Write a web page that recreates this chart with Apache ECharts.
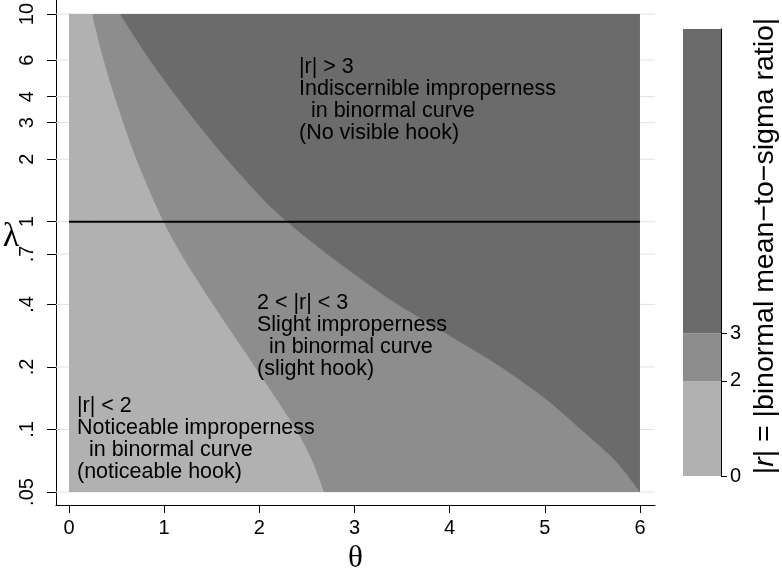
<!DOCTYPE html>
<html><head><meta charset="utf-8">
<script src="https://cdn.jsdelivr.net/npm/echarts@6/dist/echarts.min.js"></script>
<style>html,body{margin:0;padding:0;background:#fff}#c{width:782px;height:568px}</style>
</head><body><div id="c"></div><script>
// ---- data ----
const thetaTicks = [0, 1, 2, 3, 4, 5, 6];
const lambdaTicks = [0.05, 0.1, 0.2, 0.4, 0.7, 1, 2, 3, 4, 6, 10];
const lambdaTickLabels = ['.05', '.1', '.2', '.4', '.7', '1', '2', '3', '4', '6', '10'];
const thetaRange = [0, 6];
const lambdaRange = [0.05, 10];
// boundary |r| = 2 (theta, lambda)
const boundaryR2 = [[0.242, 10], [0.352, 6.28], [0.491, 3.85], [0.672, 2.21], [0.851, 1.39], [0.993, 1], [1.177, 0.7], [1.482, 0.42], [1.954, 0.2], [2.385, 0.1], [2.56, 0.07], [2.679, 0.05]];
// boundary |r| = 3 (theta, lambda)
const boundaryR3 = [[0.536, 10], [0.82, 6.28], [1.156, 3.85], [1.576, 2.21], [2.049, 1.27], [2.291, 1], [2.711, 0.7], [3.383, 0.42], [4.003, 0.282], [4.539, 0.2], [5.023, 0.1385], [5.385, 0.0993], [5.743, 0.0705], [6, 0.05]];
const referenceLambda = 1;
const colorbarLevels = [0, 2, 3];
const colorbarMax = 9.4;
const colorbarBands = [[0, 2], [2, 3], [3, 9.4]];
const regionTexts = [
  '|r| > 3\nIndiscernible improperness\n  in binormal curve\n(No visible hook)',
  '2 < |r| < 3\nSlight improperness\n  in binormal curve\n(slight hook)',
  '|r| < 2\nNoticeable improperness\n  in binormal curve\n(noticeable hook)'
];

// ---- styles ----
const C_LIGHT = '#b1b1b1', C_MED = '#8d8d8d', C_DARK = '#6b6b6b';
const bandColors = [C_LIGHT, C_MED, C_DARK];
const FONT = 'Liberation Sans, Arial, sans-serif';

const chart = echarts.init(document.getElementById('c'), null, {renderer: 'canvas'});

function lamLabel(v) {
  for (let i = 0; i < lambdaTicks.length; i++) {
    if (Math.abs(Math.log10(v) - Math.log10(lambdaTicks[i])) < 1e-6) return lambdaTickLabels[i];
  }
  return '';
}

// rectangles: [theta0, lambda0, theta1, lambda1, colorIndex]
const rects = [
  [thetaRange[0], lambdaRange[0], thetaRange[1], lambdaRange[1], 2],
  [thetaRange[0], lambdaRange[0], boundaryR3[0][0], lambdaRange[1], 1]
];
const rectsLight = [
  [thetaRange[0], lambdaRange[0], boundaryR2[0][0], lambdaRange[1], 0]
];

function rectItem(params, api) {
  const p0 = api.coord([api.value(0), api.value(1)]);
  const p1 = api.coord([api.value(2), api.value(3)]);
  const ci = api.value(4);
  // partial rects overlap the adjoining curved area by a fraction of a pixel to avoid an anti-aliasing seam
  const extra = ci === 2 ? 0 : 0.8;
  return {type: 'rect', shape: {x: p0[0], y: p1[1], width: p1[0] - p0[0] + extra, height: p0[1] - p1[1]},
    style: {fill: bandColors[ci]}};
}

const option = {
  backgroundColor: '#fff',
  animation: false,
  grid: [
    {left: 56, right: 127, top: 0, bottom: 63, containLabel: false, outerBoundsMode: 'none'},
    {left: 683, right: 61, top: 29, bottom: 92, containLabel: false, outerBoundsMode: 'none'}
  ],
  xAxis: [{
    type: 'value', gridIndex: 0, min: -0.1366, max: 6.158,
    axisLine: {show: true, onZero: false, lineStyle: {color: '#000', width: 1}},
    axisTick: {show: true, customValues: thetaTicks, length: 8, lineStyle: {color: '#000'}},
    axisLabel: {customValues: thetaTicks, color: '#000', fontSize: 20, fontFamily: FONT, margin: 13},
    splitLine: {show: false},
    name: 'θ', nameLocation: 'middle', nameGap: 36,
    nameTextStyle: {fontSize: 31, fontFamily: 'Liberation Serif, serif', color: '#000'}
  }, {
    type: 'value', gridIndex: 1, min: 0, max: 1, show: false
  }],
  yAxis: [{
    type: 'log', gridIndex: 0, min: 0.04329, max: 11.68, logBase: 10,
    axisLine: {show: true, onZero: false, lineStyle: {color: '#000', width: 1}},
    axisTick: {show: true, customValues: lambdaTicks, length: 9, lineStyle: {color: '#000'}},
    axisLabel: {customValues: lambdaTicks, rotate: 90, color: '#000', fontSize: 20, fontFamily: FONT, margin: 19, formatter: lamLabel},
    splitLine: {show: false}
  }, {
    type: 'value', gridIndex: 1, min: 0, max: colorbarMax, position: 'right', z: 10,
    axisLine: {show: true, onZero: false, lineStyle: {color: '#000', width: 1}},
    axisTick: {show: true, customValues: colorbarLevels, length: 6, lineStyle: {color: '#000'}},
    axisLabel: {customValues: colorbarLevels, color: '#000', fontSize: 20, fontFamily: FONT, margin: 9},
    splitLine: {show: false}
  }],
  series: [
    { // gridlines
      type: 'custom', xAxisIndex: 0, yAxisIndex: 0, z: 1, silent: true,
      data: lambdaTicks.map(v => [0, v]),
      renderItem: function (params, api) {
        const y = api.coord([0, api.value(1)])[1];
        const cs = params.coordSys;
        return {type: 'line', shape: {x1: cs.x, y1: y, x2: cs.x + cs.width, y2: y},
          style: {stroke: '#e2e2e2', lineWidth: 1}};
      }
    },
    { // base regions (dark + medium above the r3 start)
      type: 'custom', xAxisIndex: 0, yAxisIndex: 0, z: 2, silent: true,
      data: rects, renderItem: rectItem
    },
    { // |r| < 3 region (medium)
      type: 'line', xAxisIndex: 0, yAxisIndex: 0, z: 3, data: boundaryR3,
      smooth: 0.3, symbol: 'none', silent: true,
      lineStyle: {width: 0, color: C_MED},
      areaStyle: {color: C_MED, opacity: 1, origin: lambdaRange[0]}
    },
    { // light rect left of r2 start
      type: 'custom', xAxisIndex: 0, yAxisIndex: 0, z: 4, silent: true,
      data: rectsLight, renderItem: rectItem
    },
    { // |r| < 2 region (light)
      type: 'line', xAxisIndex: 0, yAxisIndex: 0, z: 4, data: boundaryR2,
      smooth: 0.3, symbol: 'none', silent: true,
      lineStyle: {width: 0, color: C_LIGHT},
      areaStyle: {color: C_LIGHT, opacity: 1, origin: lambdaRange[0]}
    },
    { // lambda = 1 reference line
      type: 'line', xAxisIndex: 0, yAxisIndex: 0, z: 6, symbol: 'none', silent: true,
      data: [[thetaRange[0], referenceLambda], [thetaRange[1], referenceLambda]],
      lineStyle: {color: '#000', width: 2}
    },
    { // colorbar
      type: 'custom', xAxisIndex: 1, yAxisIndex: 1, z: 2, silent: true,
      data: colorbarBands.map((b, i) => [b[0], b[1], i]),
      renderItem: function (params, api) {
        const p0 = api.coord([0, api.value(0)]);
        const p1 = api.coord([1, api.value(1)]);
        return {type: 'rect', shape: {x: p0[0], y: p1[1], width: p1[0] - p0[0], height: p0[1] - p1[1]},
          style: {fill: bandColors[api.value(2)]}};
      }
    }
  ],
  graphic: [
    {type: 'text', x: 11, y: 237, z: 10, style: {text: 'λ', align: 'center', verticalAlign: 'middle', font: '34px Liberation Serif, serif', fill: '#000'}},
    {type: 'text', left: 299, top: 56, z: 10, style: {text: regionTexts[0], font: '21.5px ' + FONT, fill: '#000', lineHeight: 22}},
    {type: 'text', left: 257, top: 292, z: 10, style: {text: regionTexts[1], font: '21.5px ' + FONT, fill: '#000', lineHeight: 22}},
    {type: 'text', left: 77, top: 395, z: 10, style: {text: regionTexts[2], font: '21.5px ' + FONT, fill: '#000', lineHeight: 22}},
    {type: 'text', x: 765, y: 246, rotation: Math.PI / 2, z: 10,
      style: {text: '{a||}{i|r}{a|| = |binormal mean−to−sigma ratio|}', align: 'center', verticalAlign: 'middle',
        rich: {a: {fontSize: 28.5, fontFamily: FONT, fill: '#000'}, i: {fontSize: 28.5, fontFamily: FONT, fontStyle: 'italic', fill: '#000'}}}}
  ]
};
chart.setOption(option);
</script></body></html>
